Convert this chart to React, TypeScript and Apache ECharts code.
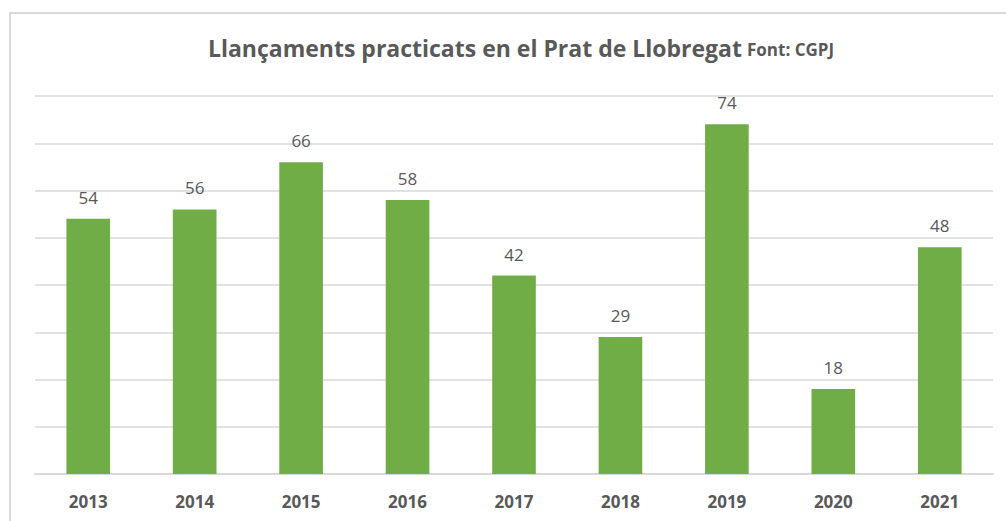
import React, { useEffect, useRef } from "react";
import * as echarts from "echarts";

const years = ["2013", "2014", "2015", "2016", "2017", "2018", "2019", "2020", "2021"];
const values = [54, 56, 66, 58, 42, 29, 74, 18, 48];

export default function App() {
  const ref = useRef<HTMLDivElement>(null);
  useEffect(() => {
    const chart = echarts.init(ref.current!, undefined, { renderer: "svg" });
    chart.setOption({
      animation: false,
      backgroundColor: "#ffffff",
      graphic: [
        {
          type: "rect",
          shape: { x: 10, y: 13, width: 1010, height: 530 },
          style: { fill: "none", stroke: "#d9d9d9", lineWidth: 2 },
          silent: true,
        },
      ],
      title: {
        text: "{a|Llançaments practicats en el Prat de Llobregat} {b|Font: CGPJ}",
        left: 516,
        textAlign: "center",
        top: 31,
        textStyle: {
          rich: {
            a: { fontFamily: "Open Sans", fontSize: 23, fontWeight: "bold", color: "#595959" },
            b: { fontFamily: "Open Sans", fontSize: 17, fontWeight: "bold", color: "#595959", padding: [3, 0, 0, 0] },
          },
        },
      },
      grid: { left: 35, right: 13, top: 96, bottom: 47, containLabel: false },
      xAxis: {
        type: "category",
        data: years,
        axisLine: { lineStyle: { color: "#d9d9d9", width: 2 } },
        axisTick: { show: false },
        axisLabel: {
          margin: 19,
          fontFamily: "Open Sans",
          fontSize: 17,
          fontWeight: "bold",
          color: "#595959",
        },
      },
      yAxis: {
        type: "value",
        min: 0,
        max: 80,
        interval: 10,
        axisLabel: { show: false },
        axisLine: { show: false },
        axisTick: { show: false },
        splitLine: { lineStyle: { color: "#d9d9d9", width: 1.5 } },
      },
      series: [
        {
          type: "bar",
          data: values,
          barWidth: "41%",
          itemStyle: { color: "#70ad47" },
          label: {
            show: true,
            position: "top",
            distance: 13,
            fontFamily: "Open Sans",
            fontSize: 17,
            color: "#595959",
          },
        },
      ],
    });
    return () => chart.dispose();
  }, []);
  return (
    <div
      ref={ref}
      style={{ position: "fixed", left: 0, top: 0, width: 1006, height: 521 }}
    />
  );
}
